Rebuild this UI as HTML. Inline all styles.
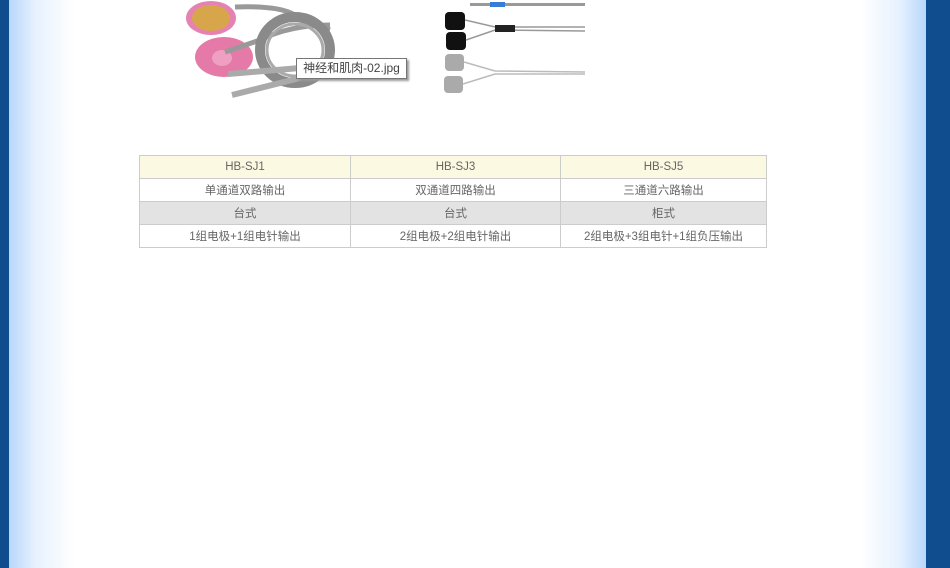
<!DOCTYPE html>
<html><head><meta charset="utf-8"><style>
html,body{margin:0;padding:0;width:950px;height:568px;overflow:hidden;background:#fff;position:relative;font-family:"Liberation Sans","Noto Sans CJK SC",sans-serif}
.l{position:absolute;left:0;top:0;width:9px;height:568px;background:#0f4d8e}
.lg{position:absolute;left:9px;top:0;width:65px;height:568px;background:linear-gradient(to right,#b7d7fb,#e6f1fe 40%,#fff)}
.r{position:absolute;left:926px;top:0;width:24px;height:568px;background:#0f4d8e}
.rg{position:absolute;left:860px;top:0;width:66px;height:568px;background:linear-gradient(to left,#b7d7fb,#e6f1fe 40%,#fff)}
table{position:absolute;left:139px;top:155px;width:628px;border-collapse:collapse;font-size:11.5px;color:#666}
td{border:1px solid #ccc;text-align:center;padding:0;height:22px}
.h td{background:#fcf9e2}
.g td{background:#e3e3e3}
.tip{position:absolute;left:296px;top:58px;height:19px;width:109px;border:1px solid #767676;background:#fff;font-size:12px;color:#444;line-height:19px;text-align:center;box-shadow:2px 2px 2px #999}
</style></head><body>
<div class="l"></div><div class="lg"></div><div class="rg"></div><div class="r"></div>
<svg style="position:absolute;left:0;top:0" width="950" height="110">
<ellipse cx="211" cy="18" rx="25" ry="17" fill="#e582b2"/>
<ellipse cx="211" cy="18" rx="19" ry="13" fill="#d8a64a"/>
<ellipse cx="224" cy="57" rx="29" ry="20" fill="#e57aa8"/>
<ellipse cx="222" cy="58" rx="10" ry="8" fill="#ef9fc2"/>
<path d="M235 7 Q290 5 300 20 L330 30" stroke="#999" stroke-width="5" fill="none"/>
<path d="M225 52 L260 40 Q290 25 330 25" stroke="#999" stroke-width="5" fill="none"/>
<ellipse cx="295" cy="50" rx="35" ry="33" stroke="#8a8a8a" stroke-width="10" fill="none"/>
<ellipse cx="295" cy="50" rx="28" ry="26" stroke="#aaa" stroke-width="3" fill="none"/>
<path d="M228 74 L300 68" stroke="#aaa" stroke-width="6"/>
<path d="M232 95 L300 78" stroke="#aaa" stroke-width="6"/>
<rect x="470" y="3" width="115" height="3" fill="#999"/><rect x="490" y="2" width="15" height="5" fill="#3a7bd5"/>
<rect x="445" y="12" width="20" height="18" rx="4" fill="#111"/>
<rect x="446" y="32" width="20" height="18" rx="4" fill="#111"/>
<path d="M465 20 L495 27 L585 27 M466 40 L495 30 L585 31" stroke="#999" stroke-width="1.5" fill="none"/>
<rect x="495" y="25" width="20" height="7" fill="#222"/>
<rect x="445" y="54" width="19" height="17" rx="4" fill="#aaa"/>
<rect x="444" y="76" width="19" height="17" rx="4" fill="#aaa"/>
<path d="M464 62 L495 71 L585 72 M463 84 L495 74 L585 74" stroke="#bbb" stroke-width="1.5" fill="none"/>
</svg>
<div class="tip">神经和肌肉-02.jpg</div>
<table>
<tr class="h"><td style="width:210px">HB-SJ1</td><td style="width:209px">HB-SJ3</td><td>HB-SJ5</td></tr>
<tr><td>单通道双路输出</td><td>双通道四路输出</td><td>三通道六路输出</td></tr>
<tr class="g"><td>台式</td><td>台式</td><td>柜式</td></tr>
<tr><td>1组电极+1组电针输出</td><td>2组电极+2组电针输出</td><td>2组电极+3组电针+1组负压输出</td></tr>
</table>
</body></html>
